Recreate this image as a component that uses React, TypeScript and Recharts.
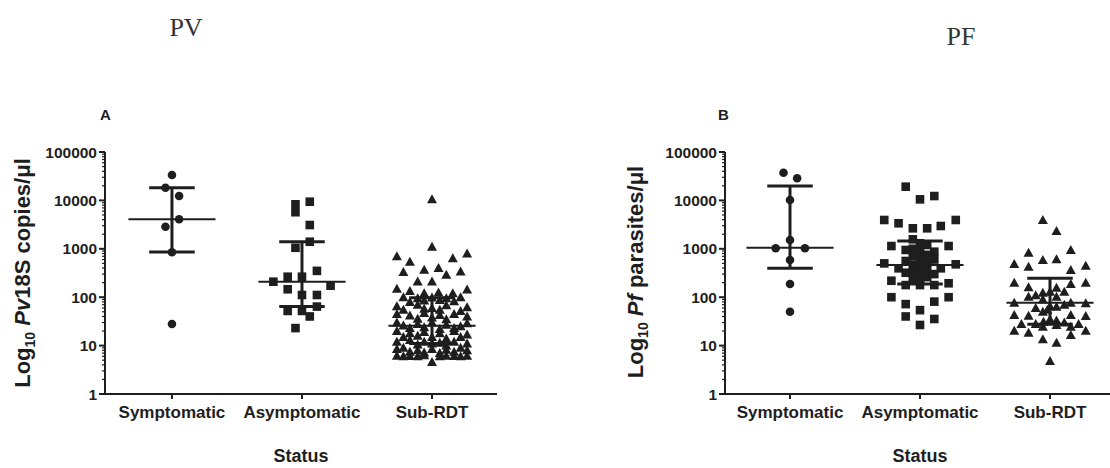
import { ReferenceLine, Scatter, ScatterChart, XAxis, YAxis } from "recharts";

const CATEGORIES = ["Symptomatic", "Asymptomatic", "Sub-RDT"];
const Y_TICKS = [1, 10, 100, 1000, 10000, 100000];
const Y_TICK_LABELS = ["1", "10", "100", "1000", "10000", "100000"];
const MINOR_TICKS = [1, 10, 100, 1000, 10000].flatMap((d) =>
  [2, 3, 4, 5, 6, 7, 8, 9].map((m) => d * m)
);

// [jitter within the column, value]
const pvSymptomatic = [
  [0, 33500], [-0.05, 18300], [0.055, 12300], [0.055, 4070],
  [-0.05, 2860], [0, 847], [0, 27.9]
];
const pvAsymptomatic = [
  [-0.05, 8300], [-0.05, 5700], [0.06, 9400], [0.06, 3100], [0.06, 1400],
  [-0.05, 1050], [0.115, 350], [-0.22, 209], [-0.11, 265], [0, 265],
  [0.22, 173], [-0.11, 146], [0, 111], [0.115, 111], [-0.11, 52],
  [0, 52], [0.115, 64], [0.06, 40], [-0.05, 23]
];
const pvSubRdt = [
  [0, 10500], [0, 1100], [-0.27, 700], [-0.17, 540], [0.16, 640], [0.27, 800],
  [-0.22, 330], [-0.06, 370], [0.05, 400], [0.11, 290], [0.22, 340],
  [-0.11, 210], [0, 210], [-0.27, 150], [0.27, 145], [-0.17, 134], [-0.06, 120], [0.16, 120], [0.05, 125],
  [-0.22, 100], [-0.11, 95], [0, 98], [0.11, 95], [0.22, 100], [-0.06, 85], [0.06, 88], [-0.17, 80], [0.17, 82],
  [-0.27, 65], [-0.11, 70], [0, 60], [0.11, 68], [0.27, 62], [-0.22, 55], [-0.06, 58], [0.06, 55], [0.22, 52],
  [-0.27, 45], [-0.17, 42], [-0.06, 47], [0.06, 43], [0.17, 45], [0.27, 40], [-0.11, 36], [0, 38], [0.11, 35],
  [-0.27, 30], [-0.22, 26], [-0.11, 28], [0, 30], [0.11, 27], [0.22, 25], [0.27, 29], [-0.17, 23], [-0.06, 24], [0.06, 22], [0.17, 23],
  [-0.27, 20], [-0.17, 18], [-0.06, 19], [0.06, 18], [0.17, 20], [0.27, 17], [-0.22, 15], [-0.11, 16], [0, 15], [0.11, 14], [0.22, 15],
  [-0.27, 12], [-0.17, 13], [-0.06, 12], [0.06, 11.5], [0.17, 12], [0.27, 11], [-0.11, 10.5], [0, 11], [0.11, 10],
  [-0.27, 8.5], [-0.22, 9], [-0.11, 8], [0, 8.5], [0.11, 8.2], [0.22, 9], [0.27, 8], [-0.17, 7.5], [0.17, 7.5], [-0.06, 7.2], [0.06, 7],
  [-0.27, 6.2], [-0.22, 6], [-0.11, 6], [-0.06, 6.3], [0.06, 6], [0.11, 6.2], [0.22, 6], [0.27, 6.2], [-0.17, 6.1], [0.17, 6.1],
  [0, 4.6]
];

const pfSymptomatic = [
  [-0.05, 37300], [0.055, 28600], [0, 10200], [0, 1520], [-0.11, 1024],
  [0.115, 1024], [0, 587], [0, 187], [0, 50]
];
const pfAsymptomatic = [
  [-0.11, 19200], [0, 10500], [0.11, 12300],
  [-0.275, 3940], [-0.165, 3370], [-0.055, 2650], [0.055, 2650], [0.16, 2960], [0.275, 3940],
  [-0.055, 1570], [-0.22, 1140], [-0.11, 945], [0.11, 871], [0.22, 1140],
  [-0.275, 500], [0.275, 478], [-0.165, 395], [0.16, 395],
  [-0.22, 219], [0.22, 194], [-0.11, 178], [0, 178], [0.11, 178],
  [-0.22, 100], [-0.11, 72], [0.11, 81], [0.22, 100], [0, 54], [-0.11, 40], [0.11, 35.5], [0, 26.7],
  [0, 1300], [0.055, 1200], [-0.055, 1000], [0, 900], [0.055, 750], [-0.055, 700], [0, 620],
  [-0.11, 560], [0.11, 600], [0.055, 520], [-0.055, 470], [0, 420], [0.055, 360], [-0.055, 330],
  [0, 300], [0.055, 260], [-0.055, 240], [0.11, 300], [-0.11, 320], [0, 230]
];
const pfSubRdt = [
  [-0.055, 3940], [0.05, 2330], [-0.165, 830], [0.16, 945],
  [-0.275, 485], [-0.165, 427], [-0.055, 587], [0.05, 607], [0.16, 365], [0.275, 448],
  [-0.275, 200], [-0.165, 160], [-0.055, 124], [0.05, 157], [0.16, 187], [0.275, 200],
  [-0.165, 102], [-0.055, 90], [0.05, 102], [-0.275, 77], [0.16, 77], [0.275, 75],
  [-0.275, 42.9], [-0.165, 41.5], [-0.055, 50], [0.05, 63.6], [0.16, 42.9], [0.275, 40.9],
  [-0.22, 27.9], [-0.275, 20.3], [-0.165, 18.5], [-0.055, 24.5], [0.05, 26.7], [0.16, 24.5], [0.22, 27.9], [0.275, 20.3],
  [-0.055, 13.5], [0.05, 11.5], [0.16, 16.6], [0, 4.8],
  [0, 130], [0, 65], [-0.02, 55], [0, 35], [0.05, 33], [-0.05, 31], [-0.11, 28], [0.11, 30],
  [-0.11, 110], [-0.11, 60], [0.11, 70], [0.11, 130]
];

// median, lower and upper quartile per group
const pvStats = [
  { median: 4070, q1: 860, q3: 18300 },
  { median: 209, q1: 64, q3: 1400 },
  { median: 25.7, q1: 11, q3: 97 }
];
const pfStats = [
  { median: 1054, q1: 395, q3: 19800 },
  { median: 463, q1: 187, q3: 1450 },
  { median: 77, q1: 27.5, q3: 246 }
];

const FONT = "'Liberation Sans', Arial, sans-serif";
const INK = "#1e1e1e";

const Dot = (p: any) => <circle cx={p.cx} cy={p.cy} r={4.3} fill={INK} />;
const Square = (p: any) => (
  <rect x={p.cx - 4.3} y={p.cy - 4.3} width={8.6} height={8.6} fill={INK} />
);
const Triangle = (p: any) => (
  <path
    d={`M${p.cx},${p.cy - 5}L${p.cx + 5},${p.cy + 4}L${p.cx - 5},${p.cy + 4}Z`}
    fill={INK}
  />
);

const toPoints = (pairs: number[][], group: number) =>
  pairs.map(([j, v]) => ({ x: group + j, y: v }));

const YTick = (props: any) => {
  const { x, y, payload } = props;
  const i = Y_TICKS.indexOf(payload.value);
  const major = i >= 0;
  return (
    <g>
      <line x1={x - (major ? 6 : 3)} x2={x} y1={y} y2={y} stroke={INK} strokeWidth={major ? 2 : 1.2} />
      {major && (
        <text x={x - 8} y={y} dy="0.36em" textAnchor="end" fontFamily={FONT} fontWeight="bold" fontSize={15.5} fill={INK}>
          {Y_TICK_LABELS[i]}
        </text>
      )}
    </g>
  );
};

const XTick = (props: any) => {
  const { x, y, payload } = props;
  return (
    <g>
      <line x1={x} x2={x} y1={y} y2={y + 5} stroke={INK} strokeWidth={2} />
      <text x={x} y={y + 24} textAnchor="middle" fontFamily={FONT} fontWeight="bold" fontSize={17} fill={INK}>
        {CATEGORIES[payload.value - 1]}
      </text>
    </g>
  );
};

type PanelProps = {
  left: number;
  width: number;
  yAxisWidth: number;
  rightMargin: number;
  xDomain: number[];
  groups: number[][][];
  stats: { median: number; q1: number; q3: number }[];
};

function Panel({ left, width, yAxisWidth, rightMargin, xDomain, groups, stats }: PanelProps) {
  const shapes = [Dot, Square, Triangle];
  return (
    <div style={{ position: "absolute", left, top: 0 }}>
      <ScatterChart width={width} height={468} margin={{ top: 152, right: rightMargin, bottom: 0, left: 0 }}>
        <XAxis
          type="number"
          dataKey="x"
          domain={xDomain}
          ticks={[1, 2, 3]}
          interval={0}
          height={74}
          tickSize={0}
          tickMargin={0}
          tickLine={false}
          tick={<XTick />}
          axisLine={{ stroke: INK, strokeWidth: 2 }}
          allowDataOverflow
        />
        <YAxis
          type="number"
          dataKey="y"
          scale="log"
          domain={[1, 100000]}
          ticks={[...Y_TICKS, ...MINOR_TICKS]}
          interval={0}
          width={yAxisWidth}
          tickSize={0}
          tickMargin={0}
          tickLine={false}
          tick={<YTick />}
          axisLine={{ stroke: INK, strokeWidth: 2 }}
          allowDataOverflow
        />
        {groups.map((g, i) => (
          <Scatter key={i} data={toPoints(g, i + 1)} shape={shapes[i]} isAnimationActive={false} />
        ))}
        {stats.map((s, i) => {
          const c = i + 1;
          return [
            <ReferenceLine key={`m${i}`} segment={[{ x: c - 0.335, y: s.median }, { x: c + 0.335, y: s.median }]} stroke={INK} strokeWidth={2} />,
            <ReferenceLine key={`v${i}`} segment={[{ x: c, y: s.q1 }, { x: c, y: s.q3 }]} stroke={INK} strokeWidth={3} />,
            <ReferenceLine key={`u${i}`} segment={[{ x: c - 0.175, y: s.q3 }, { x: c + 0.175, y: s.q3 }]} stroke={INK} strokeWidth={3} />,
            <ReferenceLine key={`l${i}`} segment={[{ x: c - 0.175, y: s.q1 }, { x: c + 0.175, y: s.q1 }]} stroke={INK} strokeWidth={3} />
          ];
        })}
      </ScatterChart>
    </div>
  );
}

export default function App() {
  const label = { fontFamily: FONT, fontWeight: "bold" as const, fill: INK };
  return (
    <div style={{ position: "absolute", left: 0, top: 0, width: 1110, height: 468, overflow: "hidden", background: "#fff" }}>
      <Panel left={0} width={560} yAxisWidth={105} rightMargin={63} xDomain={[0.485, 3.5]}
        groups={[pvSymptomatic, pvAsymptomatic, pvSubRdt]} stats={pvStats} />
      <Panel left={560} width={560} yAxisWidth={165} rightMargin={5} xDomain={[0.5, 3.5]}
        groups={[pfSymptomatic, pfAsymptomatic, pfSubRdt]} stats={pfStats} />
      <svg width={1110} height={468} style={{ position: "absolute", left: 0, top: 0, pointerEvents: "none" }}>
        <text x={186} y={36} textAnchor="middle" fontFamily="'Liberation Serif', serif" fontSize={26} fill="#333">PV</text>
        <text x={961} y={45} textAnchor="middle" fontFamily="'Liberation Serif', serif" fontSize={26} fill="#333">PF</text>
        <text x={100} y={120} fontSize={15} {...label}>A</text>
        <text x={718} y={120} fontSize={15} {...label}>B</text>
        <text transform="translate(30,273) rotate(-90)" textAnchor="middle" fontSize={22} {...label}>
          Log<tspan fontSize={14} dy={5}>10</tspan><tspan dy={-5}> </tspan>
          <tspan fontStyle="italic">Pv</tspan>18S copies/μl
        </text>
        <text transform="translate(643,272) rotate(-90)" textAnchor="middle" fontSize={22} {...label}>
          Log<tspan fontSize={14} dy={5}>10</tspan><tspan dy={-5}> </tspan>
          <tspan fontStyle="italic">Pf</tspan>  parasites/μl
        </text>
        <text x={301} y={462} textAnchor="middle" fontSize={18} {...label}>Status</text>
        <text x={920} y={462} textAnchor="middle" fontSize={18} {...label}>Status</text>
      </svg>
    </div>
  );
}
